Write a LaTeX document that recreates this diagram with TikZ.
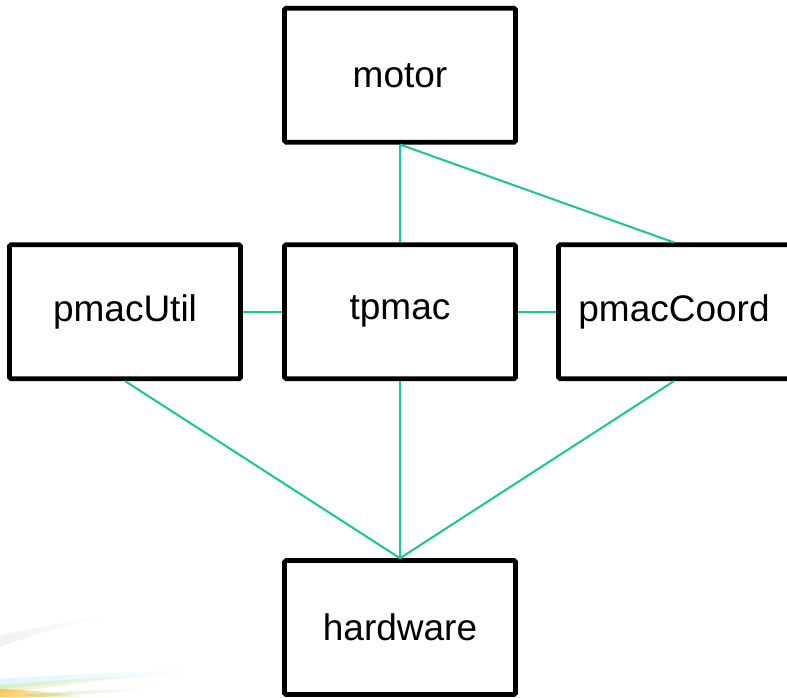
\documentclass[tikz,border=0pt]{standalone}
\usepackage{fontspec}
\setmainfont{Liberation Sans}
\usetikzlibrary{fadings}
\definecolor{linkgreen}{RGB}{22,200,150}
\tikzset{
  box/.style={draw=black, line width=4.6pt, rounded corners=1.5pt, fill=white,
    minimum width=231pt, minimum height=134pt, inner sep=0pt,
    font=\fontsize{37}{43}\selectfont},
  link/.style={draw=linkgreen, line width=2pt}
}
\begin{document}
\begin{tikzpicture}[x=1pt,y=1pt]
\useasboundingbox (0,0) rectangle (787,697);
\clip (0,0) rectangle (787,697);
\fill[white] (0,0) rectangle (787,697);
% faint background swoosh
\fill[black!25, opacity=0.2, path fading=east]
  (0,50) .. controls (40,65) and (80,75) .. (110,82)
  .. controls (80,78) and (40,70) .. (0,62) -- cycle;
\fill[cyan!30, opacity=0.4, path fading=east]
  (0,8) .. controls (60,14) and (140,20) .. (200,26)
  .. controls (140,26) and (60,22) .. (0,18) -- cycle;
\fill[yellow!60!green!50, opacity=0.45, path fading=east]
  (0,4) .. controls (50,10) and (100,16) .. (160,22)
  .. controls (100,20) and (50,16) .. (0,12) -- cycle;
\fill[orange!70!yellow, opacity=0.6, path fading=east]
  (0,0) -- (90,0) .. controls (60,4) and (30,7) .. (0,8) -- cycle;
\fill[green!50!olive!60, opacity=0.4, path fading=east]
  (20,2) .. controls (70,6) and (110,8) .. (150,8)
  .. controls (110,4) and (70,2) .. (40,0) -- cycle;
% boxes
\node[box] (motor) at (400,621.75) {motor};
\node[box] (util) at (125,385.25) {pmacUtil};
\node[box] (tpmac) at (400,385.25) {tpmac};
\node[box] (coord) at (674,385.25) {pmacCoord};
\node[box] (hw) at (400,69.5) {hardware};
% connectors
\draw[link] (motor.south) -- (tpmac.north);
\draw[link] (motor.south) -- (coord.north);
\draw[link] (util.east) -- (tpmac.west);
\draw[link] (tpmac.east) -- (coord.west);
\draw[link] (util.south) -- (hw.north);
\draw[link] (tpmac.south) -- (hw.north);
\draw[link] (coord.south) -- (hw.north);
\end{tikzpicture}
\end{document}
